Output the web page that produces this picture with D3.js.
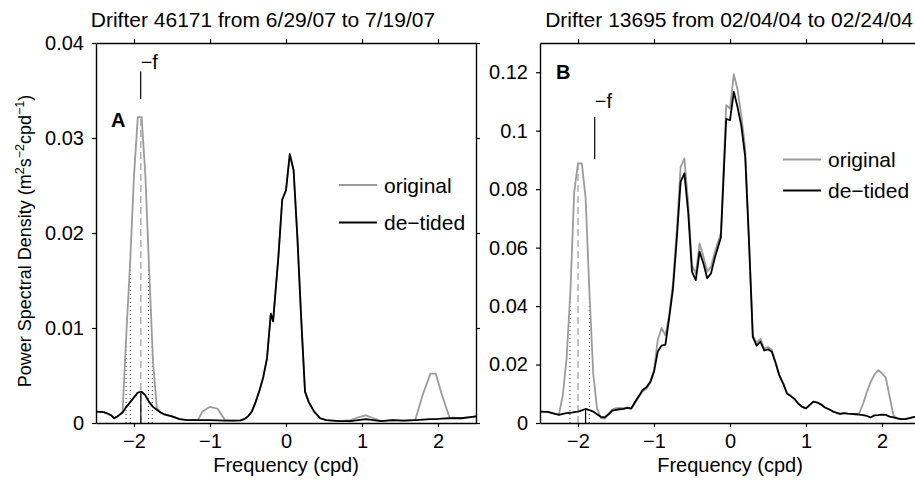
<!DOCTYPE html>
<html>
<head>
<meta charset="utf-8">
<script src="https://cdn.jsdelivr.net/npm/d3@7"></script>
<style>
  body { margin: 0; background: #fff; }
  svg { display: block; font-family: "Liberation Sans", Arial, Helvetica, sans-serif; }
</style>
</head>
<body>
<svg id="chart" width="915" height="480"></svg>
<script>
// ---- Panel A: drifter 46171 ----
const freqA = [-2.5,-2.4,-2.35,-2.3,-2.26,-2.2,-2.15,-2.1,-2.05,-2.0,-1.95,-1.9,-1.85,-1.8,-1.75,-1.7,-1.65,-1.6,-1.5,-1.4,
  -1.3,-1.16,-1.1,-1.0,-0.9,-0.8,-0.7,-0.6,-0.55,-0.5,-0.45,-0.4,-0.35,-0.3,-0.25,-0.2,-0.17,-0.1,-0.05,0,
  0.05,0.1,0.15,0.2,0.25,0.3,0.37,0.45,0.53,0.7,0.85,0.95,1.05,1.15,1.25,1.4,1.55,1.7,1.8,1.9,
  1.97,2.05,2.15,2.3,2.4,2.5];
const detidedA = [0.0012,0.00115,0.001,0.0008,0.0005,0.0008,0.0011,0.0017,0.0022,0.0027,0.0032,0.0033,0.0029,0.0022,0.0017,0.0014,0.0011,0.0009,0.0007,0.0004,
  0.0003,0.0003,0.0003,0.0003,0.00028,0.00026,0.00025,0.00028,0.0004,0.0007,0.0012,0.0022,0.0034,0.0048,0.0068,0.0115,0.0107,0.0175,0.0235,0.0245,
  0.0283,0.0266,0.0195,0.011,0.0033,0.0022,0.0012,0.0005,0.0003,0.0002,0.0002,0.0003,0.0004,0.0003,0.0002,0.0003,0.00025,0.0003,0.00035,0.0004,
  0.0004,0.00045,0.0005,0.0005,0.0006,0.0007];
const originalA = [0.0012,0.00115,0.001,0.0008,0.0005,0.0008,0.0012,0.0095,0.017,0.026,0.0322,0.0322,0.026,0.016,0.0065,0.0016,0.0011,0.0009,0.0007,0.0004,
  0.0003,0.0003,0.0012,0.0017,0.0015,0.0003,0.00025,0.00028,0.0004,0.0007,0.0012,0.0022,0.0034,0.0048,0.0068,0.0115,0.0107,0.0175,0.0235,0.0245,
  0.0283,0.0266,0.0195,0.011,0.0033,0.0022,0.0012,0.0005,0.0003,0.0002,0.0003,0.0006,0.0008,0.0005,0.0002,0.0003,0.00025,0.0003,0.003,0.0052,
  0.0052,0.003,0.0006,0.0005,0.0006,0.0007];

// ---- Panel B: drifter 13695 ----
const freqB = [-2.5,-2.4,-2.3,-2.25,-2.2,-2.15,-2.1,-2.05,-2.0,-1.95,-1.9,-1.85,-1.8,-1.75,-1.7,-1.65,-1.6,-1.55,-1.5,-1.45,
  -1.4,-1.35,-1.3,-1.25,-1.2,-1.15,-1.1,-1.05,-1.0,-0.95,-0.9,-0.85,-0.8,-0.75,-0.7,-0.65,-0.6,-0.55,-0.5,-0.45,
  -0.4,-0.35,-0.3,-0.25,-0.2,-0.12,-0.05,0,0.05,0.1,0.15,0.2,0.25,0.3,0.35,0.4,0.45,0.5,0.55,0.6,
  0.65,0.7,0.75,0.8,0.85,0.9,0.95,1.0,1.05,1.1,1.15,1.2,1.25,1.3,1.35,1.4,1.45,1.5,1.55,1.6,
  1.65,1.7,1.75,1.8,1.85,1.9,1.95,2.0,2.05,2.1,2.15,2.2,2.25,2.3,2.35,2.4,2.45,2.5];
const detidedB = [0.0039,0.0038,0.0031,0.0028,0.0031,0.0034,0.0035,0.0037,0.0039,0.0043,0.0048,0.0044,0.0039,0.003,0.0021,0.0019,0.0029,0.0042,0.0045,0.0047,
  0.0048,0.0052,0.0049,0.0072,0.0092,0.0113,0.0122,0.014,0.0175,0.0245,0.0265,0.0268,0.036,0.046,0.063,0.0825,0.0854,0.072,0.0517,0.0489,
  0.0586,0.0546,0.0495,0.0512,0.0565,0.0635,0.104,0.1036,0.1133,0.108,0.1015,0.091,0.062,0.0295,0.0265,0.0278,0.0248,0.0252,0.0244,0.0205,
  0.0162,0.0135,0.0101,0.0092,0.0082,0.0066,0.0055,0.005,0.0062,0.0073,0.007,0.0063,0.0053,0.0047,0.004,0.0035,0.0031,0.0034,0.0032,0.0031,
  0.003,0.0029,0.0027,0.0024,0.0019,0.0026,0.0027,0.0029,0.0028,0.0022,0.0019,0.0016,0.0013,0.0013,0.0016,0.0019,0.0022,0.0025];
const originalB = [0.0039,0.0038,0.0031,0.003,0.0095,0.022,0.045,0.079,0.0888,0.0888,0.077,0.045,0.017,0.005,0.0017,0.0015,0.0031,0.0046,0.0051,0.0052,
  0.0051,0.0053,0.005,0.0068,0.0088,0.0108,0.0117,0.0137,0.018,0.0285,0.0325,0.03,0.037,0.048,0.066,0.0875,0.0905,0.075,0.054,0.051,
  0.0614,0.057,0.0518,0.0535,0.0585,0.065,0.1087,0.1076,0.1193,0.114,0.105,0.094,0.063,0.03,0.0275,0.0288,0.0255,0.026,0.025,0.0208,
  0.0164,0.0135,0.0101,0.0092,0.0082,0.0066,0.0055,0.005,0.0062,0.0073,0.007,0.0063,0.0053,0.0047,0.004,0.0035,0.0031,0.0034,0.0032,0.0031,
  0.003,0.0033,0.0065,0.0105,0.014,0.0165,0.0181,0.017,0.0155,0.009,0.0027,0.0016,0.0013,0.0013,0.0016,0.0019,0.0022,0.0025];

// ticks and labels
const xTicks = [-2, -1, 0, 1, 2];
const xTickLabels = ["\u22122", "\u22121", "0", "1", "2"];
const yTicksA = [0, 0.01, 0.02, 0.03, 0.04];
const yTickLabelsA = ["0", "0.01", "0.02", "0.03", "0.04"];
const yTicksB = [0, 0.02, 0.04, 0.06, 0.08, 0.1, 0.12];
const yTickLabelsB = ["0", "0.02", "0.04", "0.06", "0.08", "0.1", "0.12"];
const legendLabels = ["original", "de\u2212tided"];

// tidal band marks (frequency in cpd)
const dottedA = [-2.105, -2.05, -1.81, -1.76];
const dashedA = -1.91;
const solidA = -1.91;
const inertialA = -1.912;
const dottedB = [-2.105, -1.85];
const dashedB = -2.0;
const solidB = -1.9;
const inertialB = -1.78;

const GRAY = "#9b9b9b";
const svg = d3.select("#chart");

// linear lookup of a spectrum at a given frequency
function valueAt(freqs, vals, f) {
    let i = d3.bisectLeft(freqs, f);
    if (i <= 0) return vals[0];
    if (i >= freqs.length) return vals[vals.length - 1];
    let t = (f - freqs[i - 1]) / (freqs[i] - freqs[i - 1]);
    return vals[i - 1] + t * (vals[i] - vals[i - 1]);
}

function drawPanel(p) {
    let x = d3.scaleLinear().domain([-2.5, 2.5]).range([p.left, p.left + 380]);
    let y = d3.scaleLinear().domain([0, p.yMax]).range([423, 43]);
    let g = svg.append("g");

    // dotted / dashed / solid vertical marks under the curves
    g.selectAll(".dot").data(p.dotted).enter().append("line")
        .attr("x1", d => x(d)).attr("x2", d => x(d))
        .attr("y1", y(0)).attr("y2", d => y(valueAt(p.freq, p.original, d)))
        .attr("stroke", "#444").attr("stroke-width", 1).attr("stroke-dasharray", "1,3");
    g.append("line")
        .attr("x1", x(p.dashed)).attr("x2", x(p.dashed))
        .attr("y1", y(0)).attr("y2", y(valueAt(p.freq, p.original, p.dashed)))
        .attr("stroke", GRAY).attr("stroke-width", 1.2).attr("stroke-dasharray", "7,4");

    let line = d3.line().x(d => x(d[0])).y(d => y(d[1]));
    g.append("path")
        .datum(p.freq.map((f, i) => [f, p.original[i]]))
        .attr("d", line).attr("fill", "none")
        .attr("stroke", GRAY).attr("stroke-width", 1.8).attr("stroke-linejoin", "round");
    g.append("path")
        .datum(p.freq.map((f, i) => [f, p.detided[i]]))
        .attr("d", line).attr("fill", "none")
        .attr("stroke", "#000").attr("stroke-width", 1.8).attr("stroke-linejoin", "round");

    g.append("line")
        .attr("x1", x(p.solid)).attr("x2", x(p.solid))
        .attr("y1", y(0)).attr("y2", y(valueAt(p.freq, p.detided, p.solid)))
        .attr("stroke", "#000").attr("stroke-width", 1.2);

    // -f marker
    g.append("line")
        .attr("x1", x(p.inertial)).attr("x2", x(p.inertial))
        .attr("y1", y(p.fMark[0])).attr("y2", y(p.fMark[1]))
        .attr("stroke", "#000").attr("stroke-width", 1.2);
    g.append("text")
        .attr("x", x(p.inertial)).attr("y", p.fTextY)
        .attr("font-size", 20).text("\u2212f");

    // axes, ticks outward like the original figure
    let bottom = d3.axisBottom(x).tickValues(xTicks).tickSize(4).tickPadding(7)
        .tickFormat((d, i) => xTickLabels[i]).tickSizeOuter(0);
    let top = d3.axisTop(x).tickValues(xTicks).tickSize(4).tickFormat("").tickSizeOuter(0);
    let left = d3.axisLeft(y).tickValues(p.yTicks).tickSize(4).tickPadding(8)
        .tickFormat((d, i) => p.yLabels[i]).tickSizeOuter(0);
    let right = d3.axisRight(y).tickValues(p.yTicks).tickSize(4).tickFormat("").tickSizeOuter(0);

    g.append("g").attr("transform", "translate(0,423)").call(bottom);
    g.append("g").attr("transform", "translate(0,43)").call(top);
    g.append("g").attr("transform", "translate(" + p.left + ",0)").call(left);
    g.append("g").attr("transform", "translate(" + (p.left + 380) + ",0)").call(right);
    g.selectAll(".domain").attr("stroke-width", 1.4);
    g.selectAll(".tick line").attr("stroke-width", 1.2);
    g.selectAll(".tick text").attr("font-size", 20).attr("font-family", "Liberation Sans, Arial, sans-serif").attr("fill", "#000");

    // panel letter, title, x label
    g.append("text").attr("x", p.letterX).attr("y", p.letterY)
        .attr("font-size", 20).attr("font-weight", "bold").text(p.letter);
    g.append("text").attr("x", p.titleX).attr("y", 27).attr("text-anchor", "middle")
        .attr("font-size", 21).text(p.title);
    g.append("text").attr("x", x(0)).attr("y", 472).attr("text-anchor", "middle")
        .attr("font-size", 20).text("Frequency (cpd)");

    // legend
    let colors = [GRAY, "#000"];
    legendLabels.forEach((lab, i) => {
        let ly = p.legendY[i];
        g.append("line").attr("x1", p.legendX).attr("x2", p.legendX + 38)
            .attr("y1", ly).attr("y2", ly)
            .attr("stroke", colors[i]).attr("stroke-width", 1.8);
        g.append("text").attr("x", p.legendX + 45).attr("y", ly + 7.5)
            .attr("font-size", 21).text(lab);
    });
}

drawPanel({
    left: 96, yMax: 0.04, freq: freqA, detided: detidedA, original: originalA,
    yTicks: yTicksA, yLabels: yTickLabelsA,
    dotted: dottedA, dashed: dashedA, solid: solidA, inertial: inertialA,
    fMark: [0.0341, 0.037], fTextY: 69,
    letter: "A", letterX: 111, letterY: 127,
    title: "Drifter 46171 from 6/29/07 to 7/19/07", titleX: 263,
    legendX: 339, legendY: [185, 222.5]
});

drawPanel({
    left: 540, yMax: 0.13, freq: freqB, detided: detidedB, original: originalB,
    yTicks: yTicksB, yLabels: yTickLabelsB,
    dotted: dottedB, dashed: dashedB, solid: solidB, inertial: inertialB,
    fMark: [0.0902, 0.1047], fTextY: 108,
    letter: "B", letterX: 556, letterY: 79,
    title: "Drifter 13695 from 02/04/04 to 02/24/04", titleX: 729,
    legendX: 783, legendY: [159.5, 190.5]
});

// shared y label
let ylab = svg.append("text")
    .attr("transform", "translate(31,241) rotate(-90)")
    .attr("text-anchor", "middle").attr("font-size", 18);
ylab.append("tspan").text("Power Spectral Density (m");
ylab.append("tspan").attr("dy", -7).attr("font-size", 12.5).text("2");
ylab.append("tspan").attr("dy", 7).text("s");
ylab.append("tspan").attr("dy", -7).attr("font-size", 12.5).text("\u22122");
ylab.append("tspan").attr("dy", 7).text("cpd");
ylab.append("tspan").attr("dy", -7).attr("font-size", 12.5).text("\u22121");
ylab.append("tspan").attr("dy", 7).text(")");
</script>
</body>
</html>
